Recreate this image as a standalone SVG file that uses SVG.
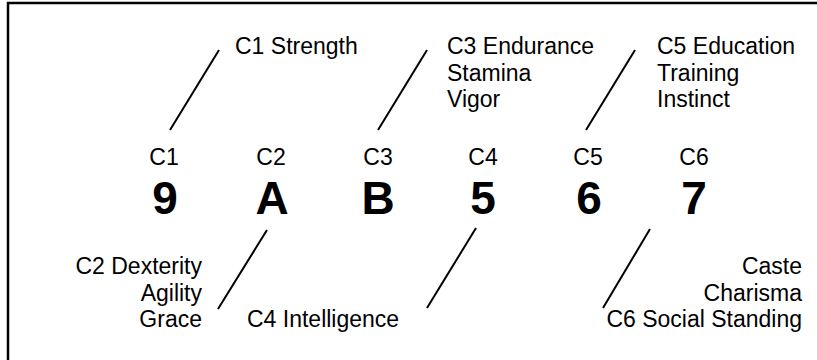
<svg xmlns="http://www.w3.org/2000/svg" width="817" height="360" viewBox="0 0 817 360">
<style>
text{font-family:"Liberation Sans",Arial,sans-serif;fill:#000}
.lbl{font-size:23px}
.col{font-size:23px;text-anchor:middle}
.big{font-size:46px;font-weight:bold;text-anchor:middle}
.r{text-anchor:end}
line{stroke:#000;stroke-width:2}
</style>
<rect x="8" y="3" width="830" height="380" fill="#fff" stroke="#000" stroke-width="2.5"/>
<g id="connectors">
<line x1="170" y1="130" x2="219" y2="50"/>
<line x1="378" y1="130" x2="427" y2="50"/>
<line x1="586" y1="130" x2="635" y2="50"/>
<line x1="267" y1="230" x2="218" y2="309"/>
<line x1="476" y1="228" x2="427" y2="308"/>
<line x1="650" y1="229" x2="603" y2="308"/>
</g>
<g id="c1"><text class="col" x="164" y="165">C1</text><text class="big" x="165" y="214">9</text></g>
<g id="c2"><text class="col" x="271" y="165">C2</text><text class="big" x="272" y="214">A</text></g>
<g id="c3"><text class="col" x="378" y="165">C3</text><text class="big" x="378" y="214">B</text></g>
<g id="c4"><text class="col" x="483" y="165">C4</text><text class="big" x="483" y="214">5</text></g>
<g id="c5"><text class="col" x="588" y="165">C5</text><text class="big" x="589" y="214">6</text></g>
<g id="c6"><text class="col" x="694" y="165">C6</text><text class="big" x="694" y="214">7</text></g>
<g id="label-c1"><text class="lbl" x="235" y="54">C1 Strength</text></g>
<g id="label-c3"><text class="lbl" x="447" y="54">C3 Endurance</text><text class="lbl" x="447" y="80.5">Stamina</text><text class="lbl" x="447" y="107">Vigor</text></g>
<g id="label-c5"><text class="lbl" x="657" y="54">C5 Education</text><text class="lbl" x="657" y="80.5">Training</text><text class="lbl" x="657" y="107">Instinct</text></g>
<g id="label-c2"><text class="lbl r" x="202" y="274">C2 Dexterity</text><text class="lbl r" x="202" y="300.5">Agility</text><text class="lbl r" x="202" y="327">Grace</text></g>
<g id="label-c4"><text class="lbl" x="247" y="327">C4 Intelligence</text></g>
<g id="label-c6"><text class="lbl r" x="802" y="274">Caste</text><text class="lbl r" x="802" y="300.5">Charisma</text><text class="lbl r" x="802" y="327">C6 Social Standing</text></g>
</svg>
